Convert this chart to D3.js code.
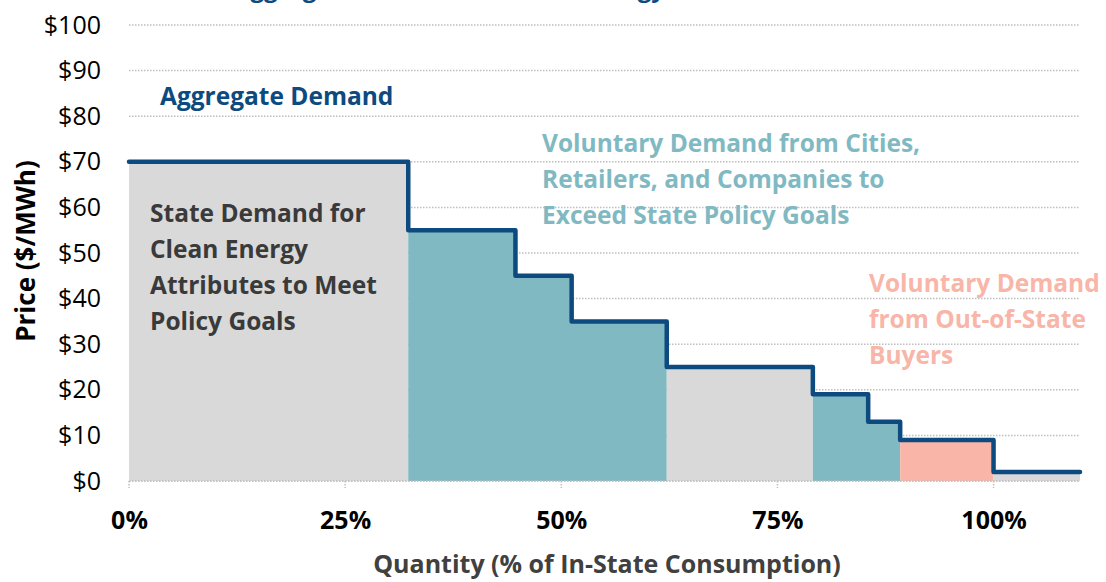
<!DOCTYPE html>
<html>
<head>
<meta charset="utf-8">
<script src="https://cdn.jsdelivr.net/npm/d3@7"></script>
<style>
  body { margin: 0; background: #fff; }
  svg text { font-family: "Open Sans", sans-serif; }
</style>
</head>
<body>
<div id="chart"></div>
<script>
// step edges (% of in-state consumption) and the price of each step
var stepStart = [0, 32.3, 44.7, 51.2, 62.2, 79.1, 85.5, 89.2, 100];
var stepEnd   = [32.3, 44.7, 51.2, 62.2, 79.1, 85.5, 89.2, 100, 110];
var stepPrice = [70, 55, 45, 35, 25, 19, 13, 9, 2];

// shaded blocks under the curve: start, end, group
var blockStart = [0, 32.3, 62.2, 79.1, 89.2, 100];
var blockEnd   = [32.3, 62.2, 79.1, 89.2, 100, 110];
var blockGroup = ["state", "voluntary", "state", "voluntary", "outofstate", "state"];

var yTicks = [0, 10, 20, 30, 40, 50, 60, 70, 80, 90, 100];
var xTicks = [0, 25, 50, 75, 100];

var width = 1106, height = 582;
var margin = { top: 25, right: 26, bottom: 101, left: 129 };

var colors = { state: "#d9d9d9", voluntary: "#80b9c2", outofstate: "#f8b5a8", line: "#0d4a80" };

var svg = d3.select("#chart").append("svg")
  .attr("width", width)
  .attr("height", height);

var x = d3.scaleLinear().domain([0, 110]).range([margin.left, width - margin.right]);
var y = d3.scaleLinear().domain([0, 100]).range([height - margin.bottom, margin.top]);

// title, cut off at the top edge like the source image
svg.append("text")
  .attr("x", 234).attr("y", -3)
  .attr("font-size", 24).attr("font-weight", "bold")
  .attr("fill", colors.line)
  .text("Aggregate Demand for Clean Energy Attributes");

// dotted gridlines
svg.append("g").selectAll("line")
  .data(yTicks)
  .join("line")
  .attr("x1", x(0)).attr("x2", x(110))
  .attr("y1", d => y(d)).attr("y2", d => y(d))
  .attr("stroke", "#bfbfbf")
  .attr("stroke-width", 1.5)
  .attr("stroke-dasharray", "1.5,1.5");

// y axis labels
svg.append("g")
  .attr("transform", `translate(${margin.left}, 0)`)
  .call(d3.axisLeft(y).tickValues(yTicks).tickSize(0).tickPadding(28).tickFormat(d => "$" + d))
  .call(g => g.select(".domain").remove())
  .selectAll("text")
  .attr("font-size", 25)
  .attr("fill", "#000")
  .style("font-family", "Open Sans");

// shaded blocks
var blocks = blockStart.map((s, i) => ({ s: s, e: blockEnd[i], g: blockGroup[i] }));
// each block is filled under the stepped curve
svg.append("g").selectAll("path")
  .data(blocks)
  .join("path")
  .attr("fill", d => colors[d.g])
  .attr("d", function(d) {
    var pts = [[d.s, 0]];
    stepStart.forEach(function(s, i) {
      var a = Math.max(s, d.s), b = Math.min(stepEnd[i], d.e);
      if (b > a) { pts.push([a, stepPrice[i]]); pts.push([b, stepPrice[i]]); }
    });
    pts.push([d.e, 0]);
    return d3.line().x(p => x(p[0])).y(p => y(p[1]))(pts) + "Z";
  });

// x axis baseline (dotted) and short tick marks
svg.append("line")
  .attr("x1", x(0)).attr("x2", x(110))
  .attr("y1", y(0)).attr("y2", y(0))
  .attr("stroke", "#bfbfbf").attr("stroke-width", 1.5)
  .attr("stroke-dasharray", "1.5,1.5");
svg.append("g").selectAll("line")
  .data(xTicks)
  .join("line")
  .attr("x1", d => x(d)).attr("x2", d => x(d))
  .attr("y1", y(0)).attr("y2", y(0) + 7)
  .attr("stroke", "#bfbfbf").attr("stroke-width", 1.5)
  .attr("stroke-dasharray", "1.5,1.5");

// x tick labels
svg.append("g")
  .attr("transform", `translate(0, ${y(0)})`)
  .call(d3.axisBottom(x).tickValues(xTicks).tickSize(0).tickPadding(30).tickFormat(d => d + "%"))
  .call(g => g.select(".domain").remove())
  .selectAll("text")
  .attr("font-size", 25)
  .attr("font-weight", "bold")
  .attr("fill", "#000")
  .style("font-family", "Open Sans");

// the aggregate demand step line
var linePts = [];
stepStart.forEach(function(s, i) {
  linePts.push([s, stepPrice[i]]);
  linePts.push([stepEnd[i], stepPrice[i]]);
});
svg.append("path")
  .datum(linePts)
  .attr("fill", "none")
  .attr("stroke", colors.line)
  .attr("stroke-width", 4.5)
  .attr("stroke-linejoin", "round")
  .attr("stroke-linecap", "round")
  .attr("d", d3.line().x(p => x(p[0])).y(p => y(p[1])));

// annotations
function label(lines, px, py, color) {
  var t = svg.append("text")
    .attr("font-size", 24.5).attr("font-weight", "bold")
    .attr("fill", color);
  lines.forEach(function(l, i) {
    t.append("tspan").attr("x", px).attr("y", py + i * 36).text(l);
  });
}
label(["Aggregate Demand"], 160, 105, colors.line);
label(["State Demand for", "Clean Energy", "Attributes to Meet", "Policy Goals"], 150, 222, "#3a3a3a");
label(["Voluntary Demand from Cities,", "Retailers, and Companies to", "Exceed State Policy Goals"], 542, 152, colors.voluntary);
label(["Voluntary Demand", "from Out-of-State", "Buyers"], 869, 292, colors.outofstate);

// axis titles
svg.append("text")
  .attr("transform", "translate(35, 251) rotate(-90)")
  .attr("text-anchor", "middle")
  .attr("font-size", 26).attr("font-weight", "bold")
  .attr("fill", "#000")
  .text("Price ($/MWh)");
svg.append("text")
  .attr("x", 607).attr("y", 573)
  .attr("text-anchor", "middle")
  .attr("font-size", 25).attr("font-weight", "bold")
  .attr("fill", "#404040")
  .text("Quantity (% of In-State Consumption)");
</script>
</body>
</html>
